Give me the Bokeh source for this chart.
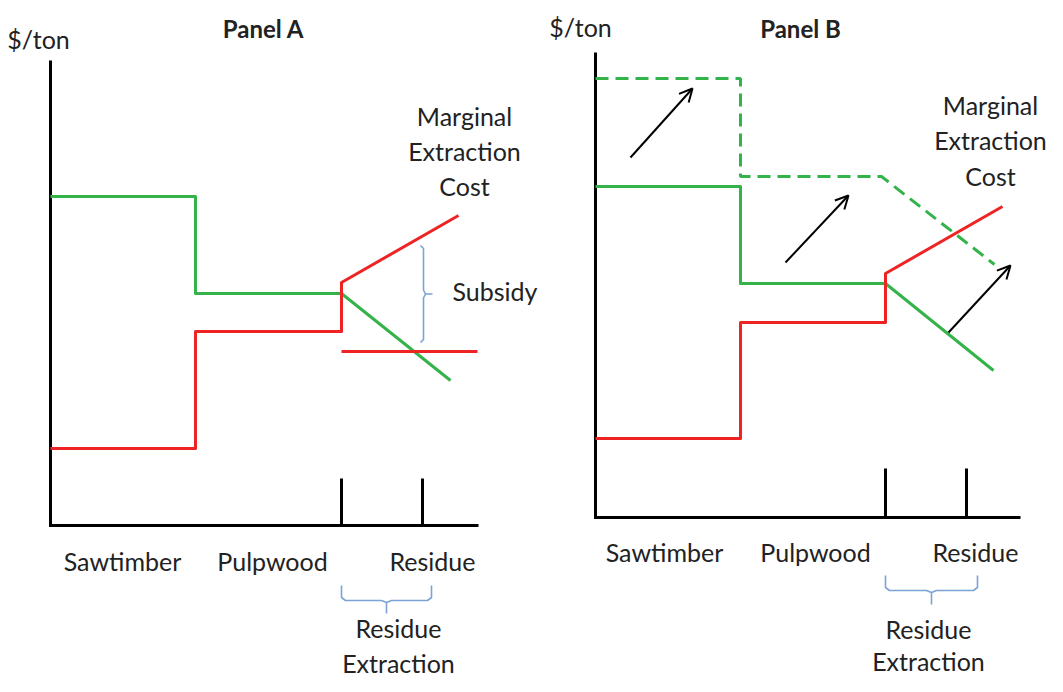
from bokeh.plotting import figure
from bokeh.models import Range1d, ColumnDataSource, Arrow, OpenHead
from bokeh.layouts import row
from bokeh.embed import file_html
from bokeh.resources import INLINE
from bokeh.core.properties import value

RED = "#ee2424"
GREEN = "#34b34a"
BLUE = "#7ba3d6"
FONT = "Lato"

# ---------------- Panel A data ----------------
a_green_x = [0, 14.5, 14.5, 29.1, 40.0]
a_green_y = [32.9, 32.9, 23.2, 23.2, 14.5]
a_red_x = [0, 14.5, 14.5, 29.1, 29.1, 40.8]
a_red_y = [7.7, 7.7, 19.4, 19.4, 24.3, 31.0]
a_subsidy_x = [29.1, 42.7]
a_subsidy_y = [17.4, 17.4]
a_axis_top = 46.5
a_axis_end = 42.8
a_ticks = [29.1, 37.2]
a_tick_h = 4.7
a_cat_labels = ["Sawtimber", "Pulpwood", "Residue"]
a_cat_x = [7.2, 22.2, 38.2]

# ---------------- Panel B data ----------------
b_green_new_x = [0, 14.5, 14.5, 28.6, 39.9]
b_green_new_y = [43.9, 43.9, 34.1, 34.1, 25.3]
b_green_x = [0, 14.5, 14.5, 29.0, 39.8]
b_green_y = [33.1, 33.1, 23.4, 23.4, 14.7]
b_red_x = [0, 14.5, 14.5, 29.0, 29.0, 40.7]
b_red_y = [7.9, 7.9, 19.5, 19.5, 24.4, 31.1]
b_arrow_x0 = [3.5, 19.0, 35.3]
b_arrow_y0 = [36.0, 25.5, 18.5]
b_arrow_x1 = [9.7, 25.3, 41.5]
b_arrow_y1 = [42.9, 32.2, 25.2]
b_axis_top = 46.5
b_axis_end = 42.5
b_ticks = [29.0, 37.1]
b_tick_h = 4.9
b_cat_labels = ["Sawtimber", "Pulpwood", "Residue"]
b_cat_x = [6.9, 22.0, 38.0]


def make_fig(width, xr, yr):
    p = figure(width=width, height=676, x_range=Range1d(*xr), y_range=Range1d(*yr),
               output_backend="svg", toolbar_location=None, min_border=0,
               x_axis_type=None, y_axis_type=None)
    p.grid.visible = False
    p.outline_line_color = None
    p.background_fill_color = "white"
    p.border_fill_color = "white"
    return p


def txt(p, x, y, s, size="25px", style="normal", align="center", baseline="middle"):
    src = ColumnDataSource(dict(x=[x], y=[y], t=[s]))
    p.text(x="x", y="y", text="t", source=src, text_font=value(FONT),
           text_font_size=size, text_font_style=style, text_align=align,
           text_baseline=baseline, text_color="#222222")


def hbrace(p, x0, x1, top, h, tip):
    xm = (x0 + x1) / 2
    xs = [x0, x0, x0 + 0.4, xm - 0.5, xm, xm, xm, xm + 0.5, x1 - 0.4, x1, x1]
    ys = [top, h + 0.3, h, h, h - 0.2, tip, h - 0.2, h, h, h + 0.3, top]
    p.line(xs, ys, line_color=BLUE, line_width=1.6)


def vbrace(p, x, top, bottom, tipx):
    ym = (top + bottom) / 2
    xs = [x - 0.3, x, x, x + 0.2, tipx, x + 0.2, x, x, x - 0.3]
    ys = [top, top - 0.3, ym + 0.4, ym, ym, ym, ym - 0.4, bottom + 0.3, bottom]
    p.line(xs, ys, line_color=BLUE, line_width=1.6)


def axes(p, top, end, ticks, tick_h):
    p.line([0, 0, end], [top, 0, 0], line_color="black", line_width=3, line_join="miter")
    p.segment(x0=ticks, y0=[0] * len(ticks), x1=ticks, y1=[tick_h] * len(ticks),
              line_color="black", line_width=3)


# ---------------- Panel A ----------------
pa = make_fig(543, (-5.0, 49.3), (-15.1, 52.5))
axes(pa, a_axis_top, a_axis_end, a_ticks, a_tick_h)
pa.line(a_green_x, a_green_y, line_color=GREEN, line_width=3, line_join="round")
pa.line(a_red_x, a_red_y, line_color=RED, line_width=3, line_join="round")
pa.line(a_subsidy_x, a_subsidy_y, line_color=RED, line_width=3)
vbrace(pa, 37.3, 28.0, 18.3, 38.2)
hbrace(pa, 29.1, 38.1, -6.0, -7.5, -8.8)
txt(pa, -1.2, 48.7, "$/ton")
txt(pa, 21.3, 49.7, "Panel A", size="24px", style="bold")
for lab, x in zip(a_cat_labels, a_cat_x):
    txt(pa, x, -3.5, lab)
txt(pa, 40.2, 23.5, "Subsidy", align="left")
for i, s in enumerate(["Marginal", "Extraction", "Cost"]):
    txt(pa, 41.4, 41.0 - 3.5 * i, s)
txt(pa, 34.8, -10.2, "Residue")
txt(pa, 34.8, -13.7, "Extraction")

# ---------------- Panel B ----------------
pb = make_fig(504, (-5.2, 45.2), (-15.9, 51.7))
axes(pb, b_axis_top, b_axis_end, b_ticks, b_tick_h)
pb.line(b_green_new_x, b_green_new_y, line_color=GREEN, line_width=3, line_dash="13 7")
pb.line(b_green_x, b_green_y, line_color=GREEN, line_width=3, line_join="round")
pb.line(b_red_x, b_red_y, line_color=RED, line_width=3, line_join="round")
for x0, y0, x1, y1 in zip(b_arrow_x0, b_arrow_y0, b_arrow_x1, b_arrow_y1):
    pb.add_layout(Arrow(end=OpenHead(size=13, line_width=2, line_color="black"),
                        x_start=x0, y_start=y0, x_end=x1, y_end=y1,
                        line_width=2, line_color="black"))
hbrace(pb, 29.0, 38.2, -5.8, -7.3, -8.7)
txt(pb, -1.5, 49.1, "$/ton")
txt(pb, 20.5, 48.9, "Panel B", size="24px", style="bold")
for lab, x in zip(b_cat_labels, b_cat_x):
    txt(pb, x, -3.4, lab)
for i, s in enumerate(["Marginal", "Extraction", "Cost"]):
    txt(pb, 39.5, 41.3 - 3.55 * i, s)
txt(pb, 33.3, -11.1, "Residue")
txt(pb, 33.3, -14.3, "Extraction")

layout = row(pa, pb)
open("out.html", "w").write(file_html(layout, INLINE))
